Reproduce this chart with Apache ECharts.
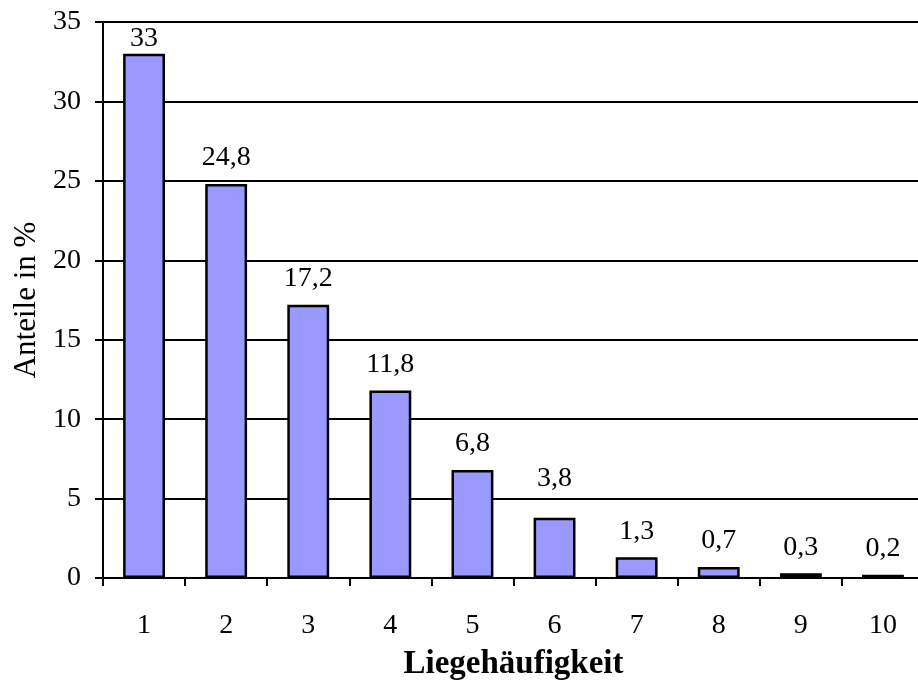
<!DOCTYPE html>
<html>
<head>
<meta charset="utf-8">
<script src="https://cdn.jsdelivr.net/npm/echarts@6/dist/echarts.min.js"></script>
<style>
  html, body { margin: 0; padding: 0; background: #fff; }
  #chart { width: 918px; height: 680px; }
</style>
</head>
<body>
<div id="chart"></div>
<script>
// Liegehäufigkeit vs. share in percent
const categories = ['1', '2', '3', '4', '5', '6', '7', '8', '9', '10'];
const shares = [33, 24.8, 17.2, 11.8, 6.8, 3.8, 1.3, 0.7, 0.3, 0.2];
const labelTexts = ['33', '24,8', '17,2', '11,8', '6,8', '3,8', '1,3', '0,7', '0,3', '0,2'];

const FONT = '"Liberation Serif", "DejaVu Serif", serif';

const chart = echarts.init(document.getElementById('chart'), null, { renderer: 'canvas' });

// label offsets: the first sits tight under the top gridline,
// the sixth is lifted clear of the 5 % gridline
const labelDistance = [1, 12, 12, 12, 12, 25, 12, 12, 12, 12];

const barData = shares.map((v, i) => ({
  value: v,
  label: { distance: labelDistance[i] }
}));

chart.setOption({
  animation: false,
  backgroundColor: '#ffffff',
  grid: {
    left: 103, right: -6, top: 22, bottom: 102,
    containLabel: false,
    outerBoundsMode: 'none'
  },
  xAxis: {
    type: 'category',
    data: categories,
    boundaryGap: true,
    name: 'Liegehäufigkeit',
    nameLocation: 'middle',
    nameGap: 70,
    nameTextStyle: { fontFamily: FONT, fontSize: 33, fontWeight: 'bold', color: '#000' },
    axisLine: { lineStyle: { color: '#000', width: 2 } },
    axisTick: { show: true, inside: false, length: 8, lineStyle: { color: '#000', width: 2 } },
    axisLabel: { fontFamily: FONT, fontSize: 28, color: '#000', margin: 34 },
    splitLine: { show: false }
  },
  yAxis: {
    type: 'value',
    min: 0,
    max: 35,
    interval: 5,
    name: 'Anteile in %',
    nameLocation: 'middle',
    nameGap: 61,
    nameRotate: 90,
    nameTextStyle: { fontFamily: FONT, fontSize: 31, color: '#000' },
    axisLine: { show: true, lineStyle: { color: '#000', width: 2 } },
    axisTick: { show: true, inside: false, length: 8, lineStyle: { color: '#000', width: 2 } },
    axisLabel: { fontFamily: FONT, fontSize: 28, color: '#000', margin: 22 },
    splitLine: { show: true, lineStyle: { color: '#000', width: 2 } }
  },
  series: [{
    type: 'bar',
    data: barData,
    barWidth: '51%',
    itemStyle: { color: '#9999ff', borderColor: '#000', borderWidth: 2.5 },
    label: {
      show: true,
      position: 'top',
      fontFamily: FONT,
      fontSize: 28,
      color: '#000',
      formatter: p => labelTexts[p.dataIndex]
    }
  }]
});
</script>
</body>
</html>
